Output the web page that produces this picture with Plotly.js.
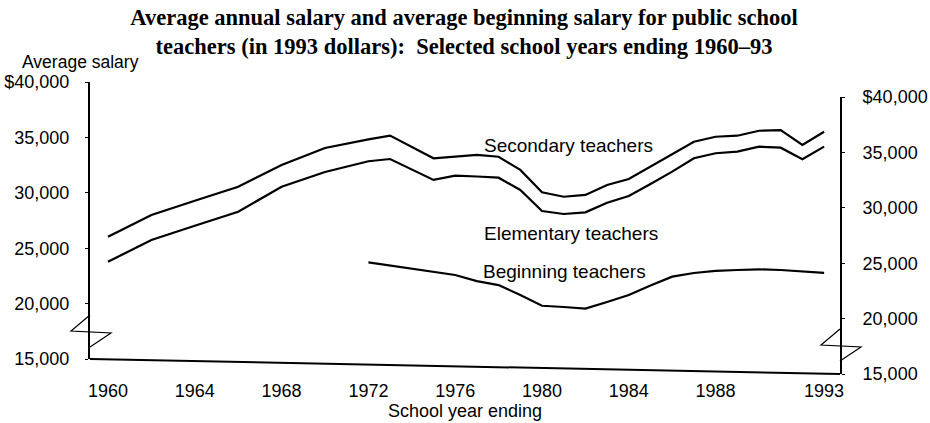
<!DOCTYPE html>
<html>
<head>
<meta charset="utf-8">
<script src="https://cdn.plot.ly/plotly-3.0.1.min.js"></script>
<style>
  html, body { margin: 0; padding: 0; background: #ffffff; }
  #chart { width: 930px; height: 423px; }
</style>
</head>
<body>
<div id="chart"></div>
<script>
// ---------------- data (values in 1993 dollars) ----------------
const years = [1960, 1962, 1964, 1966, 1968, 1970, 1972, 1973,
  1975, 1976, 1977, 1978, 1979, 1980, 1981, 1982, 1983, 1984,
  1985, 1986, 1987, 1988, 1989, 1990, 1991, 1992, 1993];
const secondary = [26070, 28110, 29470, 30820, 32850, 34470, 35330, 35700,
  33730, 33920, 34120, 33990, 32840, 30860, 30500, 30700, 31640, 32220,
  33380, 34540, 35700, 36190, 36320, 36810, 36910, 35600, 36840];
const elementary = [23810, 25850, 27210, 28560, 30890, 32300, 33350, 33590,
  31780, 32200, 32170, 32100, 31030, 29170, 28940, 29130, 30040, 30690,
  31800, 32960, 34210, 34700, 34880, 35370, 35320, 34310, 35490];
const beginYears = [1972, 1973, 1975, 1976, 1977, 1978, 1979, 1980, 1981,
  1982, 1983, 1984, 1985, 1986, 1987, 1988, 1989, 1990, 1991, 1992, 1993];
const beginning = [24220, 23980, 23490, 23240, 22730, 22410, 21550, 20620,
  20550, 20450, 21080, 21750, 22650, 23480, 23850, 24090, 24200, 24300,
  24280, 24180, 24090];

const xTickVals = [1960, 1964, 1968, 1972, 1976, 1980, 1984, 1988, 1993];
const xTickText = ["1960", "1964", "1968", "1972", "1976", "1980", "1984", "1988", "1993"];
const yTickVals = [15000, 20000, 25000, 30000, 35000, 40000];
const yTickText = ["15,000", "20,000", "25,000", "30,000", "35,000", "$40,000"];
const seriesNames = ["Secondary teachers", "Elementary teachers", "Beginning teachers"];

// ---------------- layout geometry ----------------
const W = 930, H = 423;
const L = 90, R = 90, T = 82, B = 49;
const PW = W - L - R, PH = H - T - B;
const SHIFT = 15;                 // perspective drop of the back (right) axis, px
const d = SHIFT / PH;
const px = v => (v - L) / PW;     // page px -> paper x
const py = v => (H - B - v) / PH; // page px -> paper y

const sans = "Liberation Sans, Arial, Helvetica, sans-serif";
const serif = "Liberation Serif, Times New Roman, Times, serif";

const lineStyle = { color: "#000000", width: 2.2 };
const traces = [
  { x: years, y: secondary, name: seriesNames[0], mode: "lines", line: lineStyle, xaxis: "x", yaxis: "y" },
  { x: years, y: elementary, name: seriesNames[1], mode: "lines", line: lineStyle, xaxis: "x", yaxis: "y" },
  { x: beginYears, y: beginning, name: seriesNames[2], mode: "lines", line: lineStyle, xaxis: "x", yaxis: "y" },
  // carrier so that the right-hand (back) axis is drawn; it has no points
  { x: [], y: [], name: "", mode: "lines", xaxis: "x", yaxis: "y2", hoverinfo: "skip" }
];

function zPath(ax, top) {
  // break symbol ("Z") crossing an axis line, page px
  const pts = [[ax, top], [ax - 19, top + 16], [ax + 21, top + 18], [ax, top + 32]];
  return "M" + pts.map(p => px(p[0]).toFixed(4) + "," + py(p[1]).toFixed(4)).join(" L");
}

const layout = {
  width: W, height: H,
  paper_bgcolor: "#ffffff", plot_bgcolor: "rgba(0,0,0,0)",
  margin: { l: L, r: R, t: T, b: B, pad: 0 },
  showlegend: false,
  font: { family: sans, color: "#000000", size: 18 },
  title: {
    text: "<b>Average annual salary and average beginning salary for public school<br>teachers (in 1993 dollars):  Selected school years ending 1960\u201393</b>",
    font: { family: serif, size: 22.5, color: "#000000" },
    x: 464 / W, xanchor: "center", xref: "container",
    y: 1 - 25 / H, yanchor: "top", yref: "container"
  },
  xaxis: {
    range: [1960 - 18 / 21.7, 1960 + (840 - 108) / 21.7],
    anchor: "free", position: 0,
    showline: false, showgrid: false, zeroline: false,
    ticks: "", tickvals: xTickVals, ticktext: xTickText,
    tickfont: { family: sans, size: 18 },
    ticklabelstandoff: 4,
    title: { text: "School year ending", font: { family: sans, size: 18 }, standoff: 0 }
  },
  yaxis: {
    domain: [d, 1], range: [15000, 40000],
    showline: true, linecolor: "#000000", linewidth: 2,
    showgrid: false, zeroline: false,
    ticks: "outside", ticklen: 3, tickcolor: "#000000", tickwidth: 1,
    tickvals: yTickVals, ticktext: yTickText,
    tickfont: { family: sans, size: 18 },
    ticklabelstandoff: 12
  },
  yaxis2: {
    domain: [0, 1 - d], range: [15000, 40000], anchor: "x", side: "right",
    showline: true, linecolor: "#000000", linewidth: 2,
    showgrid: false, zeroline: false,
    ticks: "outside", ticklen: 3, tickcolor: "#000000", tickwidth: 1,
    tickvals: yTickVals, ticktext: yTickText,
    tickfont: { family: sans, size: 18 },
    ticklabelstandoff: 14
  },
  shapes: [
    // sloped floor line joining the two axis bottoms
    { type: "line", xref: "paper", yref: "paper", x0: 0, y0: d, x1: 1, y1: 0,
      line: { color: "#000000", width: 2 } },
    { type: "path", xref: "paper", yref: "paper", path: zPath(90, 315),
      line: { color: "#000000", width: 1.2 } },
    { type: "path", xref: "paper", yref: "paper", path: zPath(840, 329),
      line: { color: "#000000", width: 1.2 } }
  ],
  annotations: [
    { text: "Average salary", xref: "paper", yref: "paper", x: px(20), y: py(62),
      xanchor: "left", yanchor: "middle", showarrow: false, font: { family: sans, size: 17.5 } },
    { text: seriesNames[0], xref: "paper", yref: "paper", x: px(482), y: py(145),
      xanchor: "left", yanchor: "middle", showarrow: false, font: { family: sans, size: 19 } },
    { text: seriesNames[1], xref: "paper", yref: "paper", x: px(482), y: py(233),
      xanchor: "left", yanchor: "middle", showarrow: false, font: { family: sans, size: 19 } },
    { text: seriesNames[2], xref: "paper", yref: "paper", x: px(481), y: py(271),
      xanchor: "left", yanchor: "middle", showarrow: false, font: { family: sans, size: 19 } }
  ]
};

Plotly.newPlot("chart", traces, layout, { staticPlot: true, displayModeBar: false }).then(gd => {
  // oblique (sheared) plotting wall: values drift down toward the back axis
  const k = SHIFT / PW;
  gd.querySelectorAll(".subplot.xy .scatterlayer").forEach(g => {
    g.setAttribute("transform", "matrix(1," + k + ",0,1,0,0)");
  });
});
</script>
</body>
</html>
